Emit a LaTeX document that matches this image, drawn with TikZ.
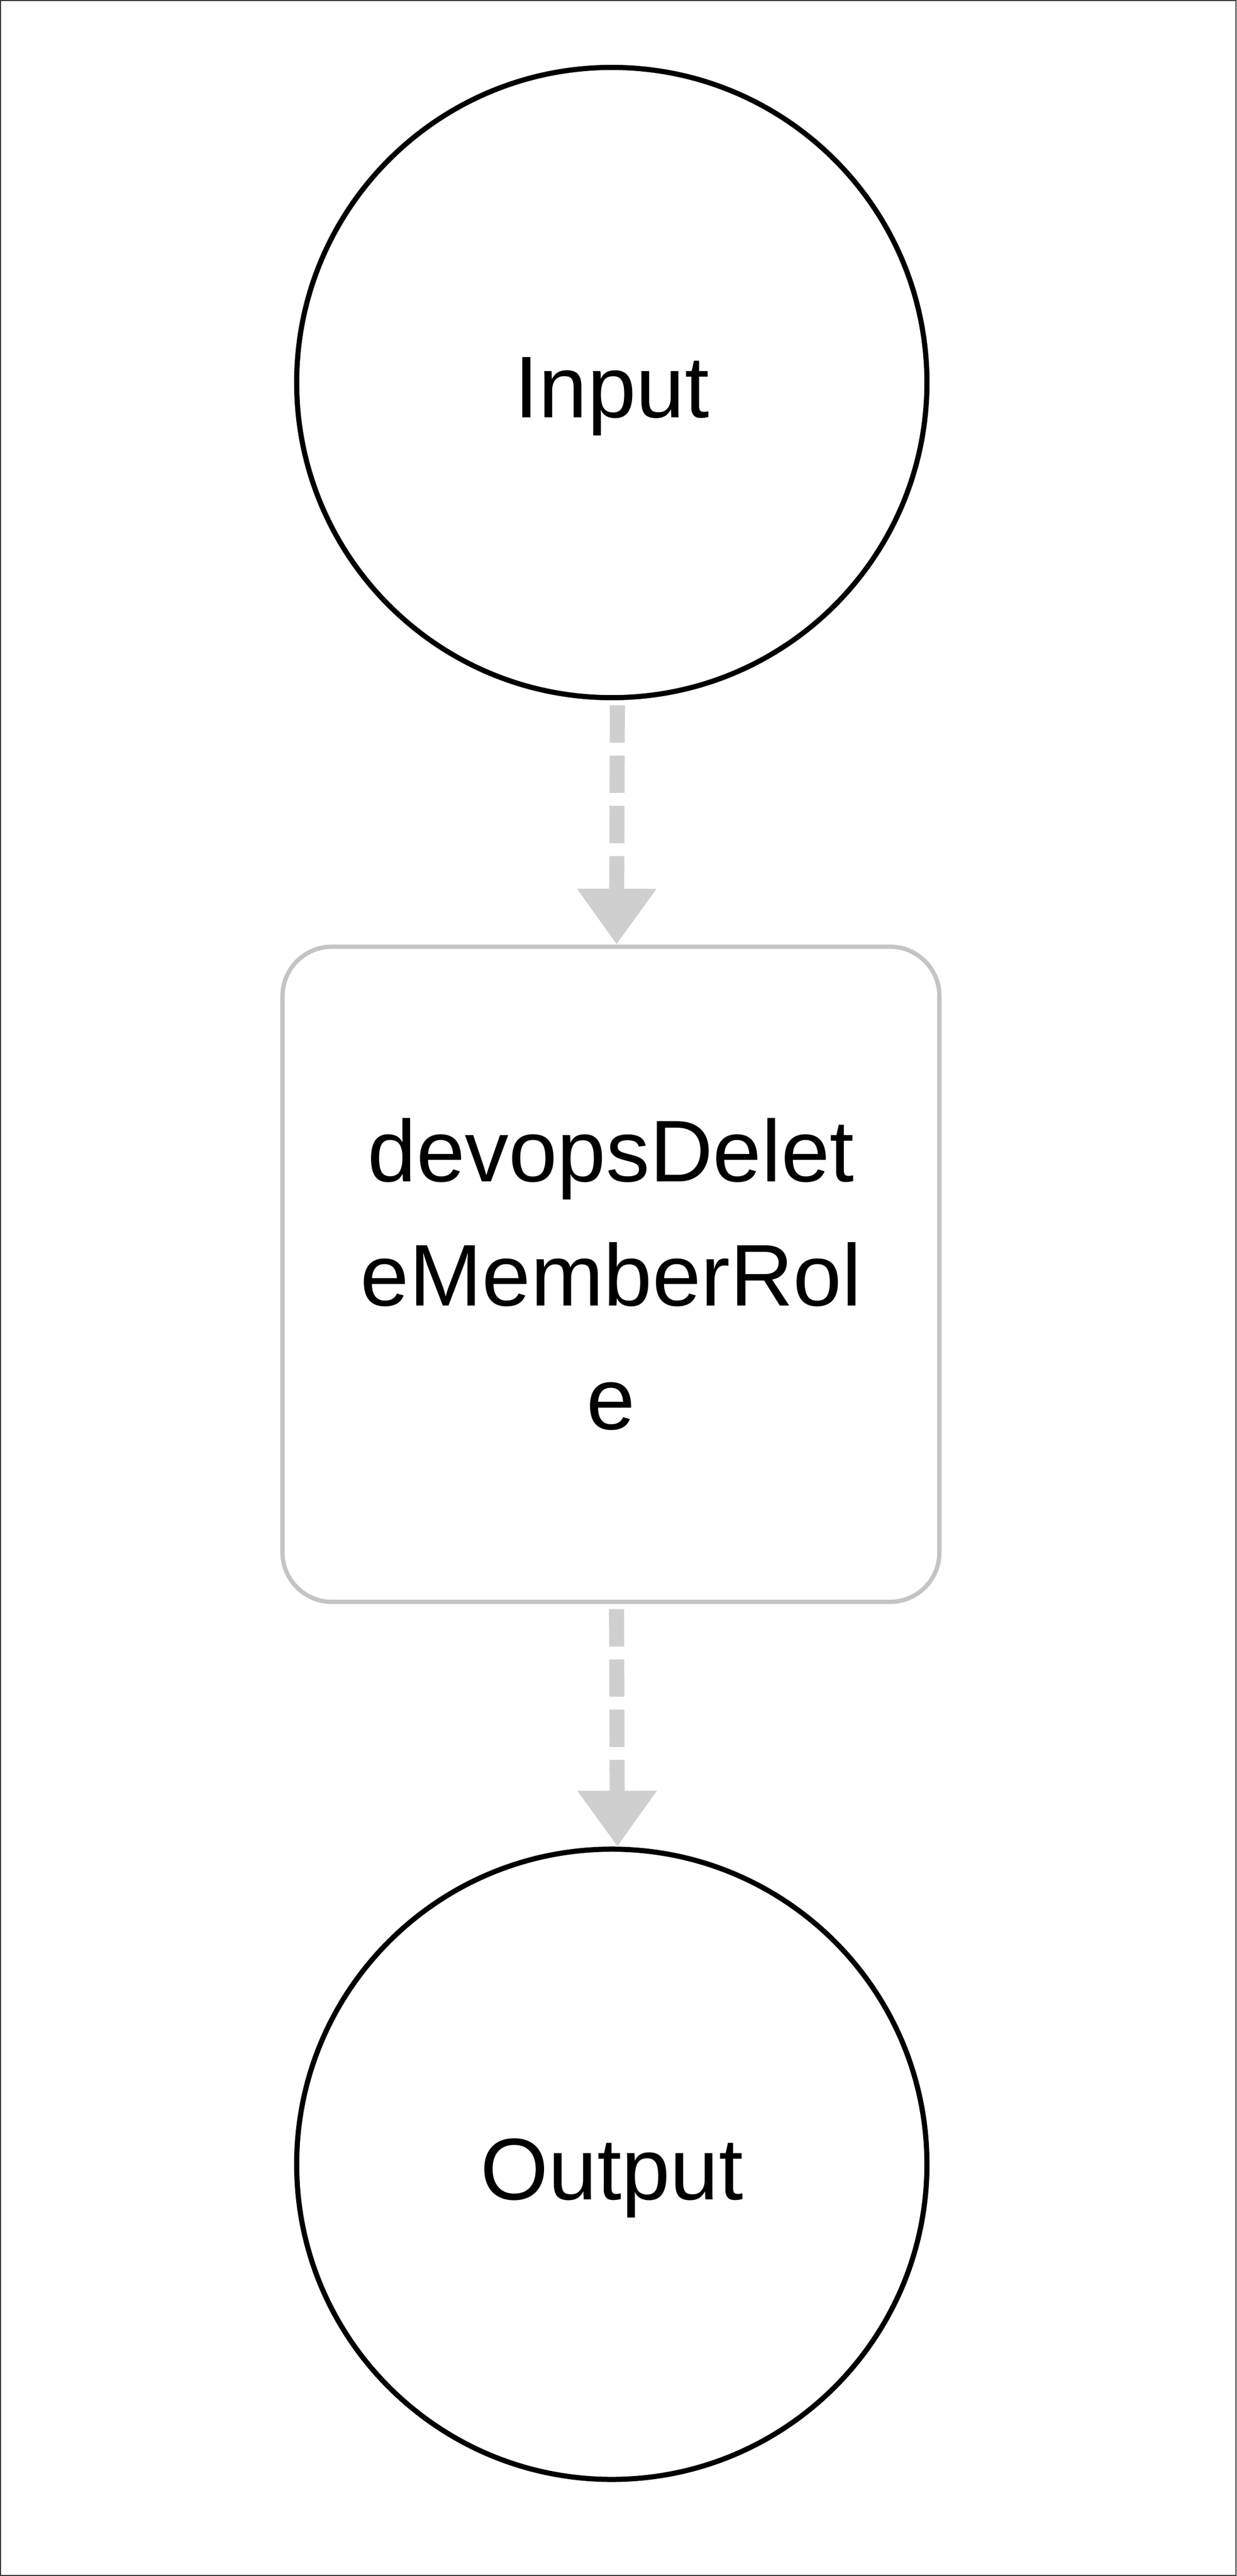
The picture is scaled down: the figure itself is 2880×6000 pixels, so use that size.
\documentclass[tikz,border=0pt]{standalone}
\usepackage{fontspec}
\setmainfont{Liberation Sans}
\usetikzlibrary{arrows.meta}
\definecolor{boxgray}{HTML}{C4C4C4}
\definecolor{arrowgray}{HTML}{CFCFCF}

\begin{document}
\begin{tikzpicture}[x=0.1mm,y=-0.1mm,
  every node/.style={font=\fontsize{58}{82}\selectfont},
  io/.style={draw=black, line width=1.2mm, circle, minimum size=146.8mm, inner sep=0pt, text height=2.07cm, text depth=0.43cm},
  task/.style={draw=boxgray, line width=1mm, rounded corners=11.5mm, minimum width=153mm, minimum height=152.6mm, align=center, inner sep=0pt},
  flow/.style={arrowgray, line width=3.5mm, dash pattern=on 8.7mm off 3mm, -{Triangle[length=13mm,width=17.6mm]}, shorten <=1.2mm}]
\useasboundingbox (0,0) rectangle (2880,6000);
\draw[black!80, line width=0.2mm] (1,1) rectangle (2879,5999);
\node[io] (input) at (1425,891) {Input};
\node[task] (member) at (1423,2968) {devopsDelet\\eMemberRol\\e};
\node[io] (output) at (1425,5041) {Output};
\draw[flow] ([xshift=1.3mm]input.south) -- ([xshift=1.3mm]member.north);
\draw[flow] ([xshift=1.3mm]member.south) -- ([xshift=1.3mm]output.north);
\end{tikzpicture}
\end{document}
